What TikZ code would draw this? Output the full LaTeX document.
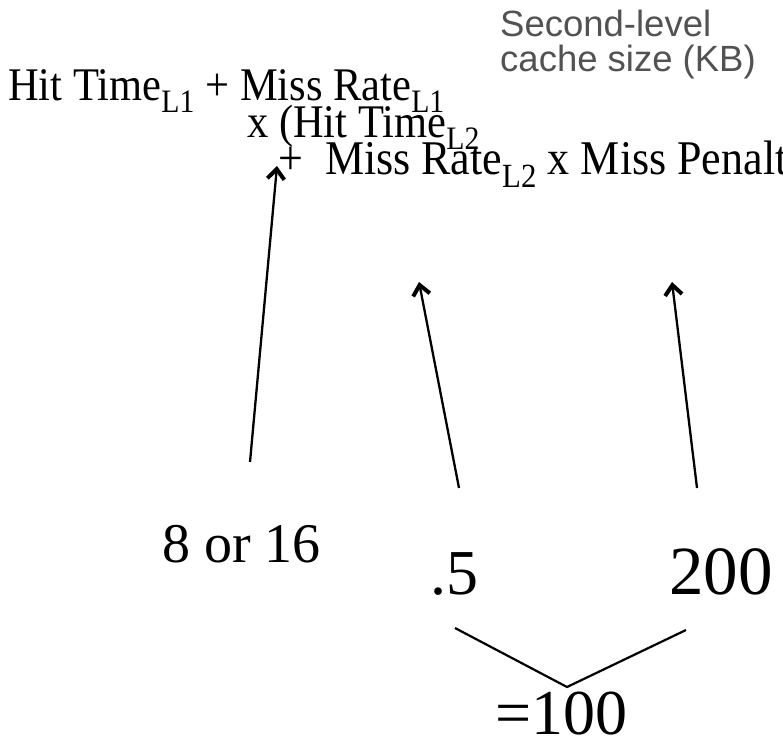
\documentclass[tikz,border=0pt]{standalone}
\usepackage{fontspec}
\setmainfont{Liberation Serif}
\newfontfamily\helvfont{Liberation Sans}
\usetikzlibrary{arrows.meta, positioning}
\newcommand{\lvl}[1]{\textsubscript{#1}}
\newcommand{\tallrow}[1]{\scalebox{1}[1.1]{#1}}

\begin{document}
\begin{tikzpicture}[
  x=1pt, y=-1pt,
  >={Straight Barb[length=10pt, width=17pt, line width=4pt]},
  eqline/.style={anchor=base west, inner sep=0pt, font=\fontsize{42.5}{42}\selectfont},
  numlbl/.style={anchor=base west, inner sep=0pt, font=\fontsize{64}{64}\selectfont},
  axisnote/.style={anchor=base west, inner sep=0pt, align=left, text=black!68,
                   font=\helvfont\fontsize{36.5}{34}\selectfont},
  pointer/.style={->, line width=2.3pt},
]
  \useasboundingbox (0,0) rectangle (783,739);
  % axis caption of the plot beside
  \node[axisnote] (axcap1) at (500,36) {Second-level};
  \node[axisnote] (axcap2) at (500,71) {cache size (KB)};
  % formula rows
  \node[eqline] (row1) at (8,100) {\tallrow{Hit Time\lvl{L1} + Miss Rate\lvl{L1}}};
  \node[eqline] (row2) at (247,137) {\tallrow{x (Hit Time\lvl{L2}}};
  \node[eqline, font=\fontsize{44}{44}\selectfont] (row3) at (278,174)
    {\tallrow{+\ \ Miss Rate\lvl{L2} x Miss Penalty\lvl{L2})}};
  \coordinate (tipA) at (277,166);
  \coordinate (tipB) at (419,282);
  \coordinate (tipC) at (672,282);
  % values
  \node[numlbl, font=\fontsize{56}{56}\selectfont] (vhit) at (162,562) {8 or 16};
  \node[numlbl] (vrate) at (430,594) {.5};
  \node[numlbl, font=\fontsize{69}{69}\selectfont] (vpen) at (669,594) {200};
  \node[numlbl] (vprod) at (495,734) {=100};
  \coordinate (startA) at (250,462);
  \coordinate (startB) at (459,488);
  \coordinate (startC) at (697,488);
  \draw[pointer] (startA) -- (tipA);
  \draw[pointer] (startB) -- (tipB);
  \draw[pointer] (startC) -- (tipC);
  % product bracket
  \coordinate (brL) at (455,628);
  \coordinate (brM) at (567,687);
  \coordinate (brR) at (686,630);
  \draw[line width=2.2pt] (brL) -- (brM) -- (brR);
\end{tikzpicture}
\end{document}
